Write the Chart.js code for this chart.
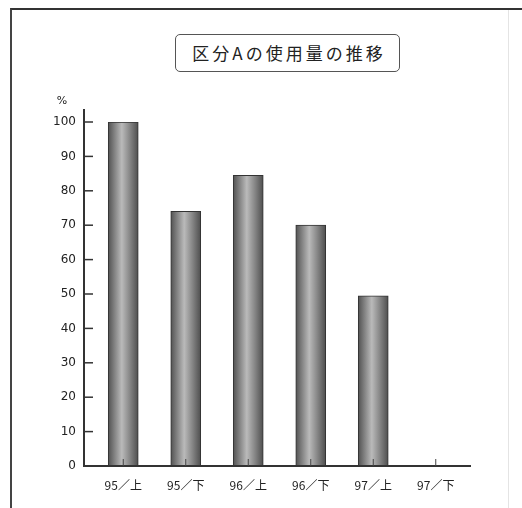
<!DOCTYPE html>
<html>
<head>
<meta charset="utf-8">
<script src="https://cdn.jsdelivr.net/npm/chart.js@4/dist/chart.umd.min.js"></script>
<style>
  html, body { margin:0; padding:0; background:#fff; }
  #wrap { position:relative; width:522px; height:508px; overflow:hidden; }
  #frame { position:absolute; left:10px; top:8px; width:600px; height:600px;
           border-top:2px solid #333; border-left:2px solid #444; }
  #rframe { position:absolute; left:508px; top:10px; width:1px; height:498px; background:#e4e4e4; }
  #title { position:absolute; left:175px; top:34px; width:220px; height:36px;
           border:1.5px solid #555; border-radius:5px; background:#fff;
           font-family:"Noto Sans CJK JP","Noto Sans",sans-serif; font-size:17px; color:#222;
           letter-spacing:3px; padding-left:3px; box-sizing:content-box; text-align:center; line-height:36px; }
  canvas { position:absolute; left:0; top:0; }
</style>
</head>
<body>
<div id="wrap">
  <div id="frame"></div>
  <div id="rframe"></div>
  <canvas id="c" width="522" height="508"></canvas>
  <div id="title">区分Aの使用量の推移</div>
</div>
<script>
const categories = ["95／上", "95／下", "96／上", "96／下", "97／上", "97／下"];
const usage = [100, 74, 84.5, 70, 49.5, 0];
const yTicks = [0, 10, 20, 30, 40, 50, 60, 70, 80, 90, 100];
const unitLabel = "%";

const BAR_W = 30;

function barGradient(context) {
  const chart = context.chart;
  const xs = chart.scales.x;
  if (!xs || context.dataIndex === undefined) return "#888";
  const cx = xs.getPixelForValue(context.dataIndex);
  if (!isFinite(cx)) return "#888";
  const g = chart.ctx.createLinearGradient(cx - BAR_W / 2, 0, cx + BAR_W / 2, 0);
  g.addColorStop(0, "#525252");
  g.addColorStop(0.2, "#808080");
  g.addColorStop(0.45, "#bababa");
  g.addColorStop(0.7, "#8a8a8a");
  g.addColorStop(1, "#4e4e4e");
  return g;
}

const axesPlugin = {
  id: "axesDeco",
  afterDatasetsDraw(chart) {
    const ctx = chart.ctx;
    const ca = chart.chartArea;
    const xs = chart.scales.x, ys = chart.scales.y;
    const axisX = ca.left - 8;
    const zeroY = ys.getPixelForValue(0);
    ctx.save();
    ctx.strokeStyle = "#333";
    ctx.lineWidth = 2;
    ctx.beginPath();
    ctx.moveTo(axisX, ys.getPixelForValue(100) - 13);
    ctx.lineTo(axisX, zeroY + 1);
    ctx.stroke();
    ctx.beginPath();
    ctx.moveTo(axisX - 1, zeroY);
    ctx.lineTo(ca.right + 4, zeroY);
    ctx.stroke();
    ctx.lineWidth = 1.5;
    yTicks.forEach(v => {
      if (v === 0) return;
      const y = ys.getPixelForValue(v);
      ctx.beginPath();
      ctx.moveTo(axisX, y);
      ctx.lineTo(axisX + 9, y);
      ctx.stroke();
    });
    ctx.lineWidth = 1;
    ctx.strokeStyle = "#444";
    categories.forEach((c, i) => {
      const x = xs.getPixelForValue(i);
      ctx.beginPath();
      ctx.moveTo(x, zeroY);
      ctx.lineTo(x, zeroY - 7);
      ctx.stroke();
    });
    ctx.fillStyle = "#222";
    ctx.font = "11px 'DejaVu Sans', sans-serif";
    ctx.textAlign = "center";
    ctx.textBaseline = "middle";
    ctx.fillText(unitLabel, axisX - 22, ys.getPixelForValue(100) - 21);
    ctx.restore();
  }
};

new Chart(document.getElementById("c"), {
  type: "bar",
  data: {
    labels: categories,
    datasets: [{
      data: usage,
      backgroundColor: barGradient,
      borderColor: "#333",
      borderWidth: 1,
      borderSkipped: "bottom",
      barThickness: BAR_W
    }]
  },
  options: {
    responsive: false,
    animation: false,
    events: [],
    layout: { padding: { top: 122, right: 55, bottom: 0, left: 0 } },
    plugins: { legend: { display: false }, tooltip: { enabled: false }, title: { display: false } },
    scales: {
      x: {
        type: "category",
        offset: true,
        grid: { display: false, drawTicks: false },
        border: { display: false },
        ticks: { color: "#222", padding: 12, font: { family: "'Noto Sans CJK JP', sans-serif", size: 12 }, maxRotation: 0 },
        afterFit(s) { s.height = 42; }
      },
      y: {
        min: 0,
        max: 100,
        afterBuildTicks(s) { s.ticks = yTicks.map(v => ({ value: v })); },
        grid: { display: false, drawTicks: false },
        border: { display: false },
        ticks: { color: "#222", padding: 16, font: { family: "'DejaVu Sans', sans-serif", size: 12 } },
        afterFit(s) { s.width = 92; }
      }
    }
  },
  plugins: [axesPlugin]
});
</script>
</body>
</html>
